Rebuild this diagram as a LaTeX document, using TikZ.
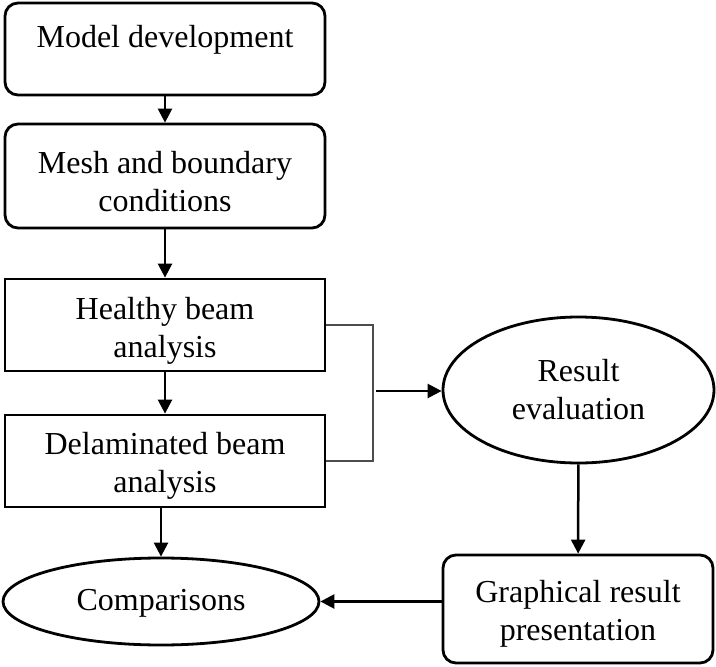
\documentclass[tikz,border=0pt]{standalone}
\usepackage{fontspec}
\setmainfont{Liberation Serif}
\usetikzlibrary{shapes.geometric,arrows.meta}

\tikzset{
  txt/.style={align=center, inner sep=0pt, font=\fontsize{32pt}{38pt}\selectfont},
  base/.style={draw=black, line width=2.8pt, inner sep=0pt, txt},
  roundbox/.style={base, rectangle, rounded corners=13pt, minimum width=320pt},
  sharpbox/.style={base, rectangle, minimum width=320pt, minimum height=92pt},
  oval/.style={base, ellipse},
  % caption of a box, set slightly off its centre
  caption/.style 2 args={label={[txt, yshift=#1]center:{#2}}},
  flow/.style={line width=2.5pt, -{Triangle[length=14pt,width=14pt]}},
  joiner/.style={draw=black!70, line width=1.4pt},
}

\begin{document}
\begin{tikzpicture}[x=1pt, y=-1pt]
  \useasboundingbox (0,0) rectangle (716,667);

  % left column of process steps
  \node[roundbox, minimum height=92pt,
        caption={9.5pt}{Model development}] (model) at (165,49) {};
  \node[roundbox, minimum height=104pt,
        caption={-6pt}{Mesh and boundary\\conditions}] (mesh) at (165,176) {};
  \node[sharpbox, caption={-6pt}{Healthy beam\\analysis}] (healthy) at (165,325) {};
  \node[sharpbox, caption={-5pt}{Delaminated beam\\analysis}] (delam) at (165,461) {};
  \node[oval, minimum width=316pt, minimum height=87pt,
        caption={-2pt}{Comparisons}] (comp) at (161,601.5) {};

  % right column
  \node[oval, minimum width=271pt, minimum height=146pt] (result) at (578.5,390)
    {Result\\evaluation};
  \node[roundbox, minimum width=270pt, minimum height=108pt,
        caption={-5pt}{Graphical result\\presentation}] (graph) at (578,609) {};

  % bracket collecting both analyses
  \coordinate (bt) at (373,325);
  \coordinate (bb) at (373,461);
  \coordinate (feed) at (376,391);
  \draw[joiner] (healthy.east) -- (bt) -- (bb) -- (delam.east);

  % connectors
  \draw[flow] (model) -- (mesh);
  \draw[flow] (mesh) -- (healthy);
  \draw[flow] (healthy) -- (delam);
  \draw[flow] (comp.north |- delam.south) -- (comp.north);
  \draw[flow] (feed) -- (feed -| result.west);
  \draw[flow] (result) -- (graph);
  \draw[flow] (graph.west |- comp.east) -- (comp.east);
\end{tikzpicture}
\end{document}
